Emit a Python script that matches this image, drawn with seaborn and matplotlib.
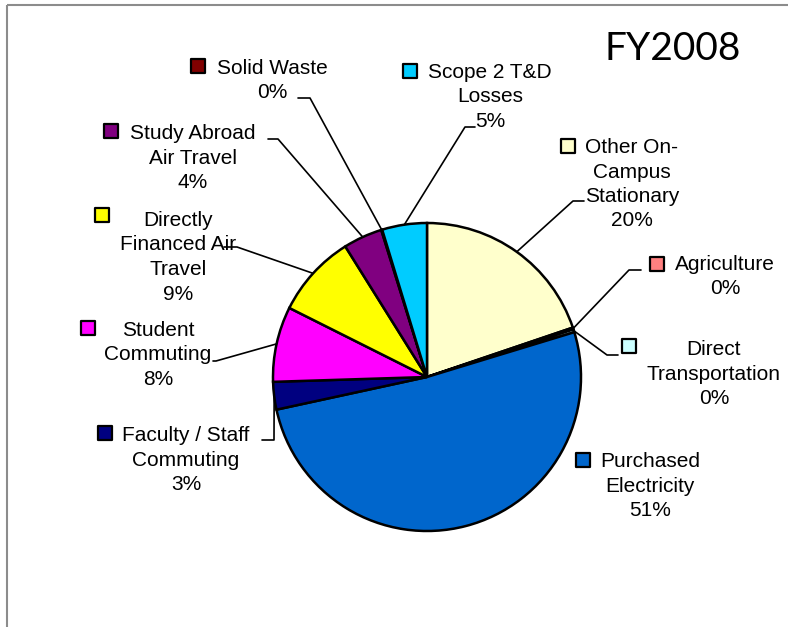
import numpy as np
import matplotlib
matplotlib.use("Agg")
import matplotlib.pyplot as plt
from matplotlib.patches import Rectangle
import seaborn as sns

# FY2008 emissions share by source, clockwise from 12 o'clock (percent)
sources = ["Other On-\nCampus\nStationary", "Agriculture", "Direct\nTransportation",
           "Purchased\nElectricity", "Faculty / Staff\nCommuting", "Student\nCommuting",
           "Directly\nFinanced Air\nTravel", "Study Abroad\nAir Travel", "Solid Waste",
           "Scope 2 T&D\nLosses"]
shares = [19.8, 0.2, 0.3, 51.3, 2.9, 7.9, 8.7, 4.1, 0.1, 4.7]
colors = ["#FFFFCC", "#FF8080", "#CCFFFF", "#0066CC", "#000080", "#FF00FF",
          "#FFFF00", "#800080", "#800000", "#00CCFF"]

# label layout in pixel space: text centre x, first baseline y, legend key, leader (elbow, end)
layout = [
    (632, 153, (568, 146), ((573, 201), (584, 201))),
    (725, 270, (657, 264), ((629, 270), (641, 270))),
    (714, 355, (629, 346), ((607, 355), (618, 355))),
    (650, 467, (583, 460), None),
    (186, 441, (105, 433), ((274, 440), (262, 440))),
    (158, 336, (88, 328), ((216, 361), (213, 361))),
    (178, 226, (102, 215), ((237, 247), (224, 247))),
    (193, 139, (111, 131), ((278, 139), (268, 139))),
    (272, 74, (198, 66), ((310, 98), (298, 98))),
    (490, 78, (410, 71), ((465, 127), (475, 127))),
]
line_step = 24.5

sns.set_theme(style="white")
plt.rcParams["font.family"] = ["Liberation Sans", "DejaVu Sans"]

W, H = 788, 627
fig = plt.figure(figsize=(W / 100, H / 100), dpi=100)
ax = fig.add_axes([0, 0, 1, 1])

cx, cy, r = 427, 377, 154
wedges, _ = ax.pie(shares, colors=colors, center=(cx, cy), radius=r,
                   startangle=-90, counterclock=True,
                   wedgeprops=dict(edgecolor="black", linewidth=1.8))

ax.set_xlim(0, W)
ax.set_ylim(H, 0)
ax.set_aspect("equal")
ax.axis("off")

for w, name, val, col, (tx, ty, key, lead) in zip(wedges, sources, shares, colors, layout):
    lines = name.split("\n") + [f"{round(val)}%"]
    for i, ln in enumerate(lines):
        ax.text(tx, ty + i * line_step, ln, ha="center", va="baseline",
                fontsize=15, color="black")
    ax.scatter([key[0]], [key[1]], marker="s", s=95, color=col,
               edgecolor="black", linewidth=1.6, zorder=5)
    if lead is not None:
        mid = np.deg2rad((w.theta1 + w.theta2) / 2)
        ex, ey = cx + r * np.cos(mid), cy + r * np.sin(mid)
        (bx, by), (fx, fy) = lead
        ax.plot([ex, bx, fx], [ey, by, fy], color="black", lw=1.2, zorder=4)

ax.text(673, 60, "FY2008", ha="center", va="baseline", fontsize=28,
        family=["Lato", "DejaVu Sans"], color="black")

ax.add_patch(Rectangle((7, 5), 900, 800, fill=False, edgecolor="#8c8c8c",
                       linewidth=1.5, clip_on=True))

fig.savefig("out.png", dpi=100)
